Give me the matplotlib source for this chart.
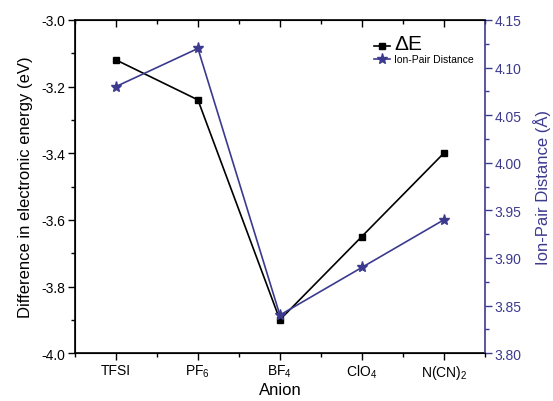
import numpy as np
import matplotlib.pyplot as plt
from matplotlib.ticker import MultipleLocator, NullFormatter

plt.rcParams['font.family'] = ['Liberation Sans', 'DejaVu Sans']
plt.rcParams['mathtext.fontset'] = 'custom'
plt.rcParams['mathtext.rm'] = 'Liberation Sans'
plt.rcParams['mathtext.it'] = 'Liberation Sans'

# data
anions = ['TFSI', r'PF$_6$', r'BF$_4$', r'ClO$_4$', r'N(CN)$_2$']
delta_e = [-3.12, -3.24, -3.90, -3.65, -3.40]
ion_pair = [4.08, 4.12, 3.84, 3.89, 3.94]

purple = '#3c3a8e'
x = np.arange(1, len(anions) + 1)

fig = plt.figure(figsize=(5.53, 4.02), dpi=100)
ax = fig.add_axes([0.1356, 0.119, 0.741, 0.829])
ax2 = ax.twinx()

l1, = ax.plot(x, delta_e, color='black', marker='s', markersize=5, linewidth=1.2)
l2, = ax2.plot(x, ion_pair, color=purple, marker='*', markersize=8, linewidth=1.2)

ax.set_xlim(0.5, 5.5)
ax.set_ylim(-4.0, -3.0)
ax2.set_ylim(3.80, 4.15)

ax.set_xticks(x)
ax.set_xticklabels(anions, fontsize=10)
ax.xaxis.set_minor_locator(MultipleLocator(0.5))
ax.yaxis.set_major_locator(MultipleLocator(0.2))
ax.yaxis.set_minor_locator(MultipleLocator(0.1))
ax.set_yticklabels([f'{v:.1f}' for v in ax.get_yticks()], fontsize=10)
ax2.yaxis.set_major_locator(MultipleLocator(0.05))
ax2.yaxis.set_minor_locator(MultipleLocator(0.025))
ax2.set_yticklabels([f'{v:.2f}' for v in ax2.get_yticks()], fontsize=10)

ax.tick_params(axis='both', which='major', direction='out', length=5, width=1, pad=2)
ax.tick_params(axis='both', which='minor', direction='out', length=3, width=1)
ax2.tick_params(axis='y', which='major', direction='out', length=5, width=1, colors=purple, pad=2)
ax2.tick_params(axis='y', which='minor', direction='out', length=3, width=1, colors=purple)

# top axis: mirrored ticks pointing inward
top = ax.secondary_xaxis('top')
top.set_xticks(x)
top.xaxis.set_minor_locator(MultipleLocator(0.5))
top.xaxis.set_major_formatter(NullFormatter())
top.tick_params(which='major', direction='in', length=5, width=1)
top.tick_params(which='minor', direction='in', length=3, width=1)
top.spines['top'].set_linewidth(1.2)

for s in ['left', 'bottom']:
    ax.spines[s].set_linewidth(1.2)
ax.spines['top'].set_visible(False)
ax.spines['right'].set_visible(False)
ax2.spines['right'].set_color(purple)
ax2.spines['right'].set_linewidth(1.2)

ax.set_xlabel('Anion', fontsize=12, labelpad=1)
ax.set_ylabel('Difference in electronic energy (eV)', fontsize=12, labelpad=6)
ax2.set_ylabel('Ion-Pair Distance (Å)', fontsize=12, color=purple, labelpad=8)

leg = ax.legend([l1, l2], [r'$\Delta$E', 'Ion-Pair Distance'], loc='upper right',
                bbox_to_anchor=(0.995, 0.985), frameon=False, handlelength=1.6,
                handletextpad=0.3, labelspacing=0.1, fontsize=7.5)
leg.get_texts()[0].set_fontsize(15)

fig.savefig('out.png', dpi=100)
